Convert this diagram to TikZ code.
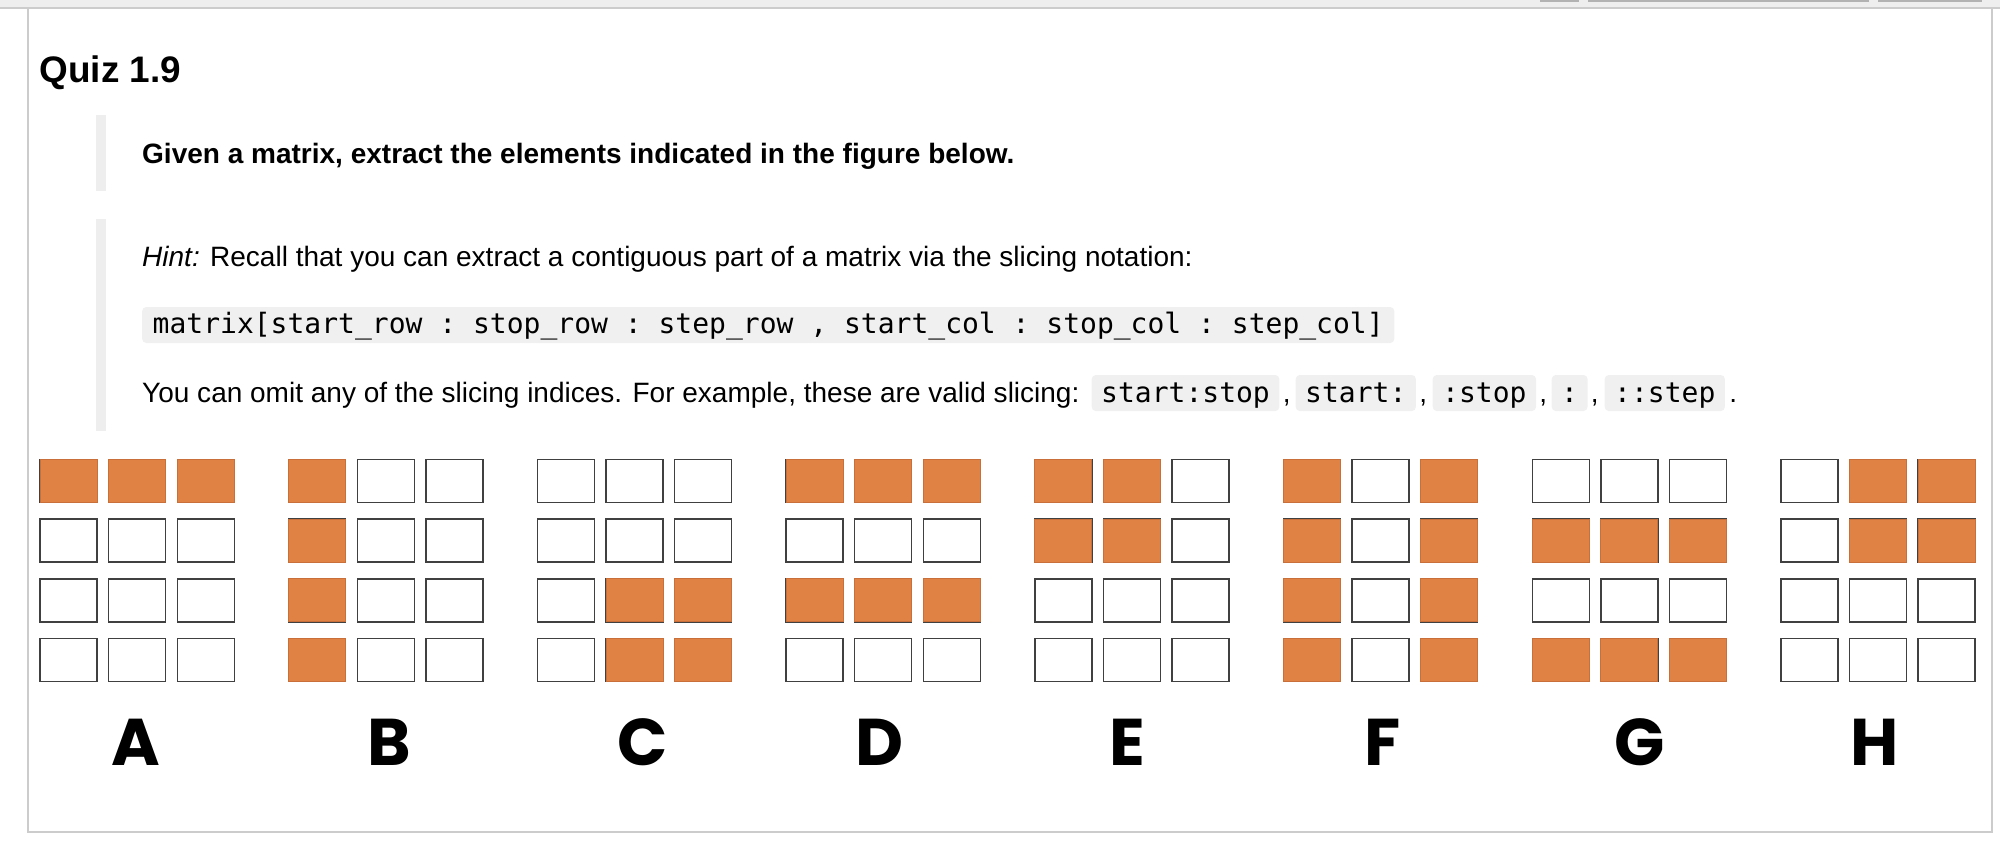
\documentclass[tikz,border=0pt]{standalone}
\usepackage{fontspec}
\setmainfont{Liberation Sans}
\setmonofont{DejaVu Sans Mono}
\newfontfamily\letras{Poppins}
\definecolor{naranja}{HTML}{DF8244}
\definecolor{bordenaranja}{HTML}{C96F39}
\definecolor{gris}{HTML}{F0F0F1}
\definecolor{barra}{HTML}{EEEEEE}
\definecolor{marco}{HTML}{CCCCCC}

\begin{document}
\begin{tikzpicture}[
  cuerpo/.style={anchor=base west, inner sep=0, font=\fontsize{7.97}{9.5}\selectfont},
  codigo/.style={cuerpo, fill=gris, rounded corners=0.04cm, inner xsep=0.105cm, text height=0.26cm, text depth=0.10cm, font=\fontsize{7.97}{9.5}\selectfont\ttfamily},
  chip/.style={codigo, inner xsep=0.095cm, text height=0.27cm, text depth=0.09cm},
  celda/.style={draw=black!75, line width=0.014cm, fill=white},
  llena/.style={draw=bordenaranja, line width=0.01cm, fill=naranja},
  letra/.style={anchor=base, inner sep=0, font=\fontsize{18.8}{20}\selectfont\letras\bfseries}
]
\useasboundingbox (0,0) rectangle (20,-8.42);

%Marco
\fill[barra] (0,0) rectangle (20,-0.075);
\draw[marco, line width=0.02cm] (0,-0.075) -- (20,-0.075);
\draw[marco, line width=0.02cm] (0.28,-0.075) -- (0.28,-8.32) -- (19.92,-8.32) -- (19.92,-0.075);
\draw[gray!60, line width=0.015cm] (15.40,-0.01) -- (15.79,-0.01);
\draw[gray!60, line width=0.015cm] (15.88,-0.01) -- (18.69,-0.01);
\draw[gray!60, line width=0.015cm] (18.78,-0.01) -- (19.82,-0.01);

%Titulo
\node[cuerpo, font=\fontsize{10.5}{12}\selectfont\bfseries] (titulo) at (0.39,-0.827) {Quiz 1.9};

%Enunciado
\fill[barra] (0.96,-1.15) rectangle (1.06,-1.91);
\node[cuerpo, font=\fontsize{7.97}{9.5}\selectfont\bfseries] (enunciado) at (1.415,-1.635) {Given a matrix, extract the elements indicated in the figure below.};

%Pista
\fill[barra] (0.96,-2.19) rectangle (1.06,-4.31);
\node[cuerpo] (pista) at (1.415,-2.665) {\textit{Hint:} Recall that you can extract a contiguous part of a matrix via the slicing notation:};
\node[codigo] (notacion) at (1.415,-3.33) {matrix[start\_row : stop\_row : step\_row , start\_col : stop\_col : step\_col]};
\node[cuerpo] (omitir) at (1.415,-4.02) {You can omit any of the slicing indices. For example, these are valid slicing:};
\node[chip] (c1) at (10.91,-4.02) {start:stop};
\node[cuerpo, xshift=0.02cm] (coma1) at (c1.base east) {,};
\node[chip] (c2) at (12.95,-4.02) {start:};
\node[cuerpo, xshift=0.02cm] (coma2) at (c2.base east) {,};
\node[chip] (c3) at (14.32,-4.02) {:stop};
\node[cuerpo, xshift=0.02cm] (coma3) at (c3.base east) {,};
\node[chip] (c4) at (15.51,-4.02) {:};
\node[cuerpo, xshift=0.02cm] (coma4) at (c4.base east) {,};
\node[chip] (c5) at (16.04,-4.02) {::step};
\node[cuerpo, xshift=0.03cm] (punto) at (c5.base east) {.};

%Matrices
\foreach \g in {0,...,7}
  \foreach \i in {0,1,2}
    \foreach \j in {0,...,3}
      \draw[celda] ({0.40+2.487*\g+0.686*\i},{-4.593-0.598*\j}) rectangle ++(0.57,-0.43);

\foreach \g/\i/\j in {0/0/0, 0/1/0, 0/2/0,
    1/0/0, 1/0/1, 1/0/2, 1/0/3,
    2/1/2, 2/2/2, 2/1/3, 2/2/3,
    3/0/0, 3/1/0, 3/2/0, 3/0/2, 3/1/2, 3/2/2,
    4/0/0, 4/1/0, 4/0/1, 4/1/1,
    5/0/0, 5/0/1, 5/0/2, 5/0/3, 5/2/0, 5/2/1, 5/2/2, 5/2/3,
    6/0/1, 6/1/1, 6/2/1, 6/0/3, 6/1/3, 6/2/3,
    7/1/0, 7/2/0, 7/1/1, 7/2/1}
  \draw[llena] ({0.40+2.487*\g+0.686*\i},{-4.593-0.598*\j}) rectangle ++(0.57,-0.43);

%Letras
\foreach \l/\x in {A/1.36, B/3.89, C/6.43, D/8.80, E/11.27, F/13.83, G/16.40, H/18.75}
  \node[letra] (letra\l) at (\x,-7.65) {\l};
\end{tikzpicture}
\end{document}
